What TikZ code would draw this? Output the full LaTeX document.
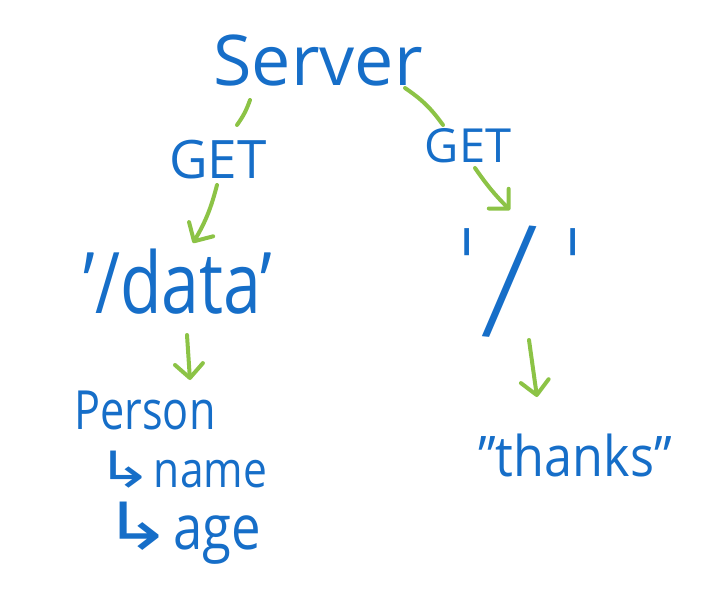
\documentclass[tikz,border=0pt]{standalone}
\usepackage{fontspec}
\setmainfont{Open Sans}
\newfontfamily\symfont{DejaVu Sans}
\newfontfamily\thinfont{DejaVu Sans ExtraLight}
\usetikzlibrary{arrows.meta,calc}
\definecolor{inkblue}{RGB}{22,110,200}
\definecolor{inkgreen}{RGB}{140,195,70}
\tikzset{
  hand/.style={text=inkblue, inner sep=0pt},
  link/.style={draw=inkgreen, line width=4pt, line cap=round, line join=round},
  linkarrow/.style={link, -{Straight Barb[length=14pt,width=28pt,line width=4pt,round]}}
}
\begin{document}
\begin{tikzpicture}[x=1pt,y=-1pt]
\useasboundingbox (0,0) rectangle (713,594);
\node[hand,font=\fontsize{70}{70}\selectfont] (server) at (318,60) {Server};
\node[hand,font=\fontsize{53}{53}\selectfont] (getL) at (218,160) {GET};
\node[hand,font=\fontsize{47}{47}\selectfont] (getR) at (468,146) {GET};
\node[hand,font=\fontsize{85}{85}\selectfont] (data) at (178,282) {\scalebox{0.8}[1]{'/data'}};
\node[hand,font=\fontsize{100}{100}\thinfont] (root) at (520,282) {\raisebox{25pt}{'}\kern 0pt{\fontsize{140}{140}\selectfont\rotatebox[origin=c]{-6}{/}}\kern 20pt\raisebox{25pt}{'}};
\node[hand,font=\fontsize{54}{54}\selectfont] (person) at (145,410) {\scalebox{0.8}[1]{Person}};
\node[hand,font=\fontsize{50}{50}\selectfont] (name) at (182,470) {\scalebox{0.85}[1]{\scalebox{1.6}[1]{\symfont ↳}name}};
\node[hand,font=\fontsize{62}{62}\selectfont] (age) at (182,533) {\scalebox{0.85}[1]{\scalebox{1.6}[1.05]{\symfont ↳}age}};
\node[hand,font=\fontsize{56}{56}\selectfont] (thanks) at (575,455) {\scalebox{0.9}[1]{"thanks"}};
\draw[link] ($(server)+(-68,40)$) to[bend left=8] ($(getL)+(19,-35)$);
\draw[linkarrow] ($(getL)+(-1,25)$) to[bend left=8] ($(data)+(15,-39)$);
\draw[link] ($(server)+(87,28)$) to[bend left=10] ($(getR)+(-25,-21)$);
\draw[linkarrow] ($(getR)+(7,22)$) to[bend right=5] ($(root)+(-10,-72)$);
\draw[linkarrow] ($(data)+(9,53)$) -- ($(person)+(45,-30)$);
\draw[linkarrow] ($(root)+(9,58)$) -- ($(thanks)+(-38,-58)$);
\end{tikzpicture}
\end{document}
